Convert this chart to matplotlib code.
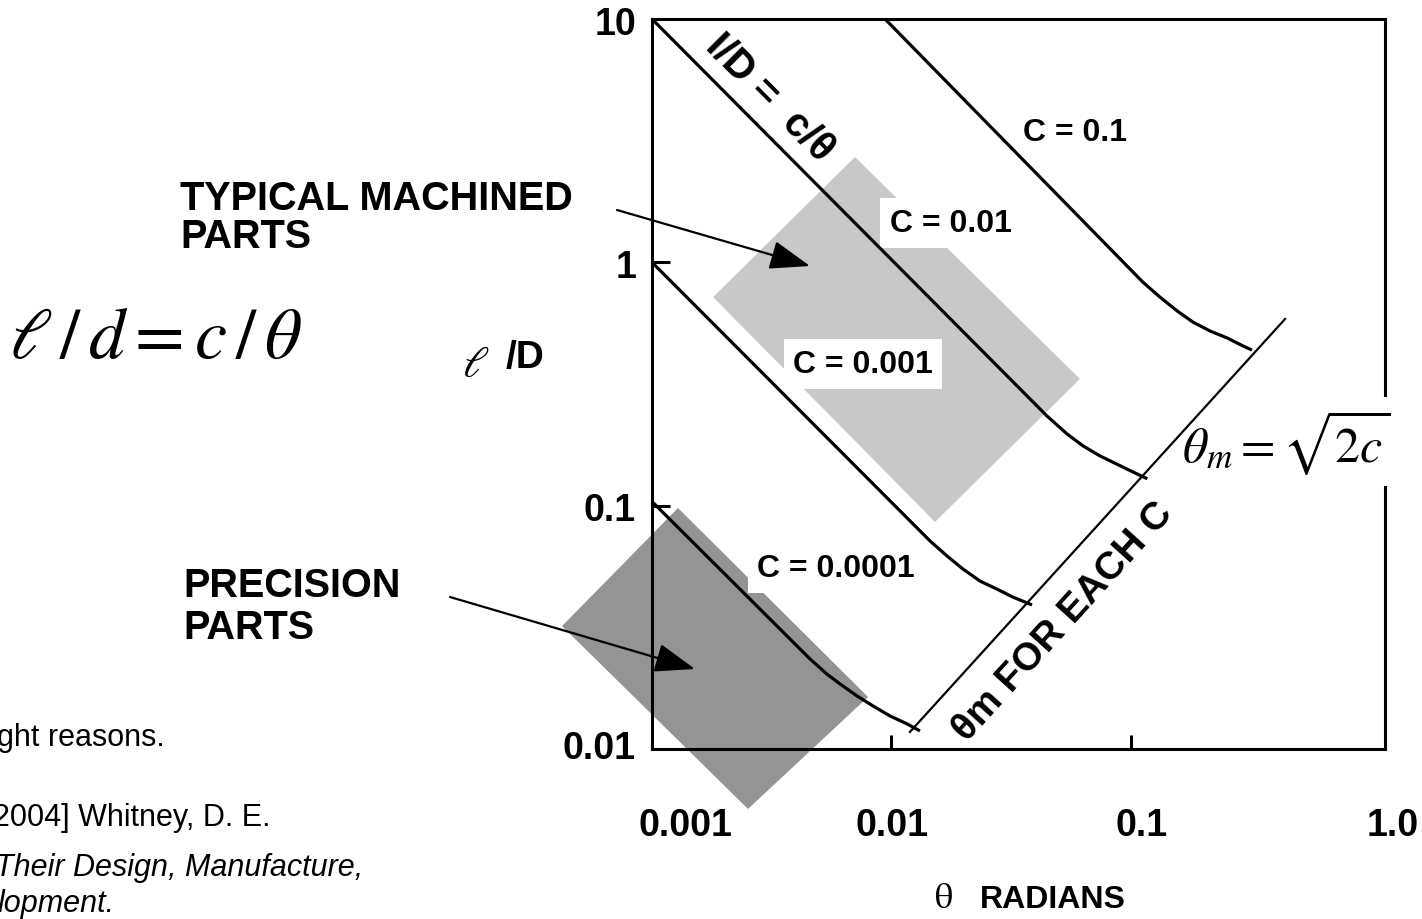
import matplotlib
matplotlib.use("Agg")
import matplotlib.pyplot as plt
from matplotlib.patches import FancyArrowPatch

plt.rcParams['font.family'] = ['Liberation Sans', 'DejaVu Sans']
plt.rcParams['mathtext.fontset'] = 'stix'

W, H = 1422, 920

# ---------------- data ----------------
x_tick_values = [0.01, 0.1]
x_tick_labels = ['0.001', '0.01', '0.1', '1.0']
y_tick_values = [0.1, 1]
y_tick_labels = ['10', '1', '0.1', '0.01']

c_labels = ['C = 0.1', 'C = 0.01', 'C = 0.001', 'C = 0.0001']

theta_c1 = [0.0094, 0.112, 0.132, 0.156, 0.181, 0.214, 0.252, 0.294, 0.320]
ld_c1 = [10.0, 0.830, 0.720, 0.631, 0.569, 0.522, 0.489, 0.453, 0.436]

theta_c2 = [0.001, 0.0446, 0.0541, 0.0631, 0.0743, 0.0875, 0.102, 0.117]
ld_c2 = [10.0, 0.2336, 0.197, 0.176, 0.160, 0.148, 0.1375, 0.129]

theta_c3 = [0.001, 0.01449, 0.01706, 0.01988, 0.02342, 0.02757, 0.03214, 0.0386]
ld_c3 = [1.0, 0.0716, 0.0621, 0.0549, 0.0490, 0.0454, 0.0421, 0.0391]

theta_c4 = [0.001, 0.00457, 0.00538, 0.00610, 0.00718, 0.00838, 0.00986, 0.01162, 0.01315]
ld_c4 = [0.104, 0.02344, 0.0203, 0.0185, 0.01652, 0.01502, 0.01367, 0.01268, 0.01186]

theta_m = [0.01194, 0.440]
ld_m = [0.01175, 0.585]

machined_theta = [0.00704, 0.0612, 0.0152, 0.00180]
machined_ld = [2.71, 0.3316, 0.0857, 0.720]

precision_theta = [0.001284, 0.00798, 0.002517, 0.000421]
precision_ld = [0.0978, 0.01636, 0.00567, 0.0320]


def P(x, y):
    return (x / W, 1 - y / H)


fig = plt.figure(figsize=(W / 100, H / 100), dpi=100)
ax = fig.add_axes([652 / W, (H - 750) / H, 733 / W, 730 / H])
ax.set_xscale('log')
ax.set_yscale('log')
ax.set_xlim(0.001, 1.15)
ax.set_ylim(0.01, 10)


def T(x, y, s, **kw):
    kw.setdefault('zorder', 4)
    return ax.text(*P(x, y), s, transform=fig.transFigure, clip_on=False, **kw)


# shaded regions
ax.fill(machined_theta, machined_ld, color='#c8c8c8', lw=0, clip_on=False, zorder=1)
ax.fill(precision_theta, precision_ld, color='#949494', lw=0, clip_on=False, zorder=1)

# curves
for th, ld in [(theta_c1, ld_c1), (theta_c2, ld_c2), (theta_c3, ld_c3), (theta_c4, ld_c4)]:
    ax.plot(th, ld, color='black', lw=2.3, solid_capstyle='butt', solid_joinstyle='round',
            zorder=5, clip_on=False)
ax.plot(theta_m, ld_m, color='black', lw=1.6, zorder=6, clip_on=False)

# axes styling
for s in ax.spines.values():
    s.set_linewidth(2.2)
ax.set_xticks(x_tick_values)
ax.set_yticks(y_tick_values)
ax.minorticks_off()
ax.set_xticklabels([])
ax.set_yticklabels([])
ax.tick_params(axis='y', direction='in', length=13, width=2.2, left=True, right=False)
ax.tick_params(axis='x', direction='in', length=10, width=2.2, bottom=True, top=False)

# tick labels
for lab, y in zip(y_tick_labels, [25, 268, 511, 749]):
    T(636, y, lab, ha='right', va='center', fontsize=27, fontweight='bold')
for lab, x in zip(x_tick_labels, [685, 892, 1142, 1393]):
    T(x, 826, lab, ha='center', va='center', fontsize=27, fontweight='bold')

# axis titles
T(943, 908, r'$\mathrm{\theta}$', ha='center', va='baseline', fontsize=26)
T(980, 908, 'RADIANS', ha='left', va='baseline', fontsize=23, fontweight='bold')
T(462, 377, r'$\ell$', ha='left', va='baseline', fontsize=32)
T(506, 368, '/D', ha='left', va='baseline', fontsize=28, fontweight='bold')

# curve labels
box = dict(facecolor='white', edgecolor='none', boxstyle='square,pad=0.3')
T(1075, 133, c_labels[0], ha='center', va='center', fontsize=23, fontweight='bold')
T(951, 224, c_labels[1], ha='center', va='center', fontsize=23, fontweight='bold', bbox=box)
T(863, 365, c_labels[2], ha='center', va='center', fontsize=23, fontweight='bold', bbox=box)
T(836, 569, c_labels[3], ha='center', va='center', fontsize=23, fontweight='bold', bbox=box)

# rotated labels
T(770, 98, 'I/D =  c/θ', ha='center', va='center', rotation=-45,
  rotation_mode='anchor', fontsize=29, fontweight='bold')
T(1063, 622, 'θm FOR EACH C', ha='center', va='center', rotation=47.8,
  rotation_mode='anchor', fontsize=28, fontweight='bold')

# theta_m formula with white box over right spine
T(1182, 462, r'$\theta_m = \sqrt{2c}$', ha='left', va='baseline', fontsize=36,
  bbox=dict(facecolor='white', edgecolor='none', boxstyle='square,pad=0.2'))

# left annotations
T(180, 210, 'TYPICAL MACHINED', ha='left', va='baseline', fontsize=28.5, fontweight='bold')
T(180, 248, 'PARTS', ha='left', va='baseline', fontsize=28.5, fontweight='bold')
T(183, 597, 'PRECISION', ha='left', va='baseline', fontsize=28.5, fontweight='bold')
T(183, 639, 'PARTS', ha='left', va='baseline', fontsize=28.5, fontweight='bold')

T(302, 358, r'$\ell\,/\,d = c\,/\,\theta$', ha='right', va='baseline', fontsize=52)

# arrows
for start, end in [((617, 211), (810, 267)), ((450, 598), (695, 670))]:
    arr = FancyArrowPatch(P(*start), P(*end), transform=fig.transFigure,
                          arrowstyle='-|>,head_length=1.0,head_width=0.36',
                          mutation_scale=25, lw=1.6, color='black',
                          shrinkA=0, shrinkB=0, zorder=7, clip_on=False)
    ax.add_artist(arr)

# source notes, cropped at the left edge as in the reference
T(-3, 746, 'ght reasons.', ha='left', va='baseline', fontsize=22)
T(-7, 826, '2004] Whitney, D. E.', ha='left', va='baseline', fontsize=22)
T(-5, 876, 'Their Design, Manufacture,', ha='left', va='baseline', fontsize=22, style='italic')
T(-2, 912, 'lopment.', ha='left', va='baseline', fontsize=22, style='italic')

fig.savefig('out.png', dpi=100)
